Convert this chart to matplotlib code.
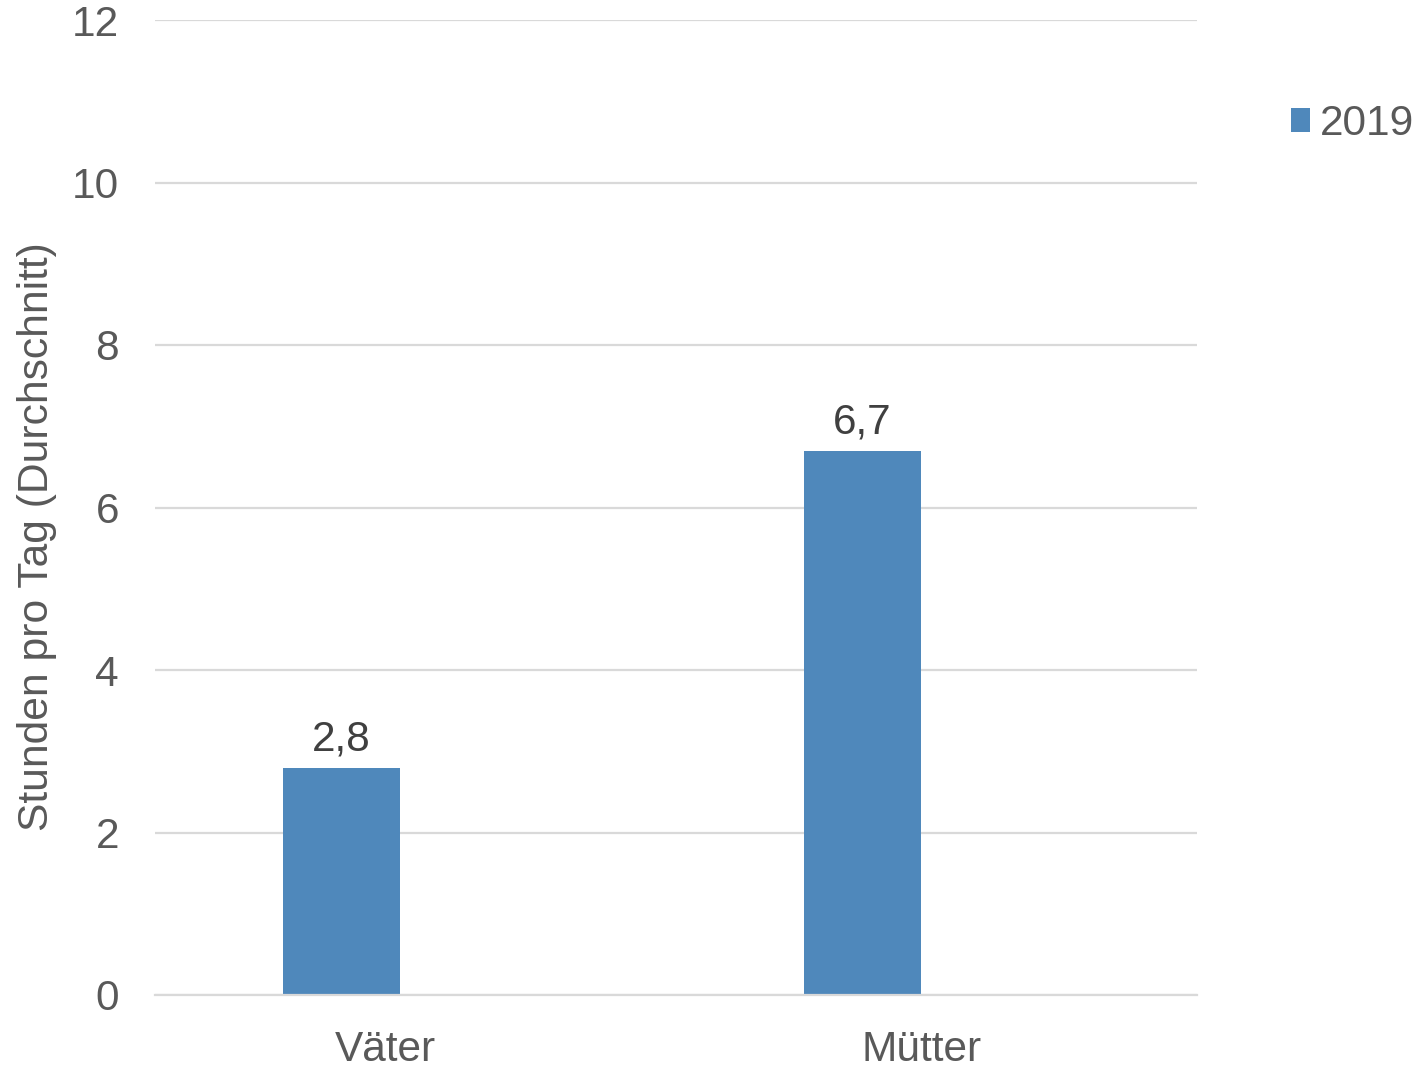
import matplotlib
matplotlib.use("Agg")
import matplotlib.pyplot as plt
import numpy as np
from matplotlib.patches import Patch

categories = ["Väter", "Mütter"]
values_2019 = [2.8, 6.7]
value_labels = ["2,8", "6,7"]
yticks = [0, 2, 4, 6, 8, 10, 12]
series_name = "2019"
ylabel = "Stunden pro Tag (Durchschnitt)"

plt.rcParams['font.family'] = ['Liberation Sans', 'DejaVu Sans']

W, H = 1424, 1071
fig = plt.figure(figsize=(W / 100, H / 100), dpi=100)
ax = fig.add_axes([155 / W, 76 / H, (1197 - 155) / W, (995 - 20) / H])

bar_color = "#4F88BB"
text_gray = "#595959"
grid_gray = "#D9D9D9"
FS = 30.5

x = np.arange(len(categories))
bar_x = x + 0.358
bars = ax.bar(bar_x, values_2019, width=0.2245, color=bar_color, zorder=3)

for bx, v, lab in zip(bar_x, values_2019, value_labels):
    ax.annotate(lab, (bx, v), xytext=(0, 6), textcoords="offset points",
                ha="center", va="bottom", fontsize=FS, color="#404040")

ax.set_xlim(0, 2)
ax.set_ylim(0, 12)
ax.set_yticks(yticks)
ax.set_yticklabels([str(t) for t in yticks])
ax.set_xticks(x + np.array([0.4426, 0.472]))
ax.set_xticklabels(categories)
ax.tick_params(axis="y", length=0, pad=26, labelsize=FS, labelcolor=text_gray)
ax.tick_params(axis="x", length=0, pad=25.5, labelsize=FS, labelcolor=text_gray)

ax.grid(axis="y", color=grid_gray, linewidth=1.6, zorder=0)
ax.set_axisbelow(True)
for s in ["top", "right", "left"]:
    ax.spines[s].set_visible(False)
ax.spines["bottom"].set_color(grid_gray)
ax.spines["bottom"].set_linewidth(1.6)
ax.spines["bottom"].set_zorder(4)

ax.set_ylabel(ylabel, fontsize=30.7, color=text_gray)
ax.yaxis.set_label_coords(-0.094, 0.47)

handle = Patch(facecolor=bar_color, edgecolor="none")
fig.legend([handle], [series_name], loc="center left",
           bbox_to_anchor=(1291 / W, 1 - 124 / H), bbox_transform=fig.transFigure,
           frameon=False, fontsize=FS, labelcolor=text_gray,
           handlelength=0.44, handleheight=0.5, handletextpad=0.25,
           borderpad=0, borderaxespad=0)

fig.savefig("out.png", dpi=100)
